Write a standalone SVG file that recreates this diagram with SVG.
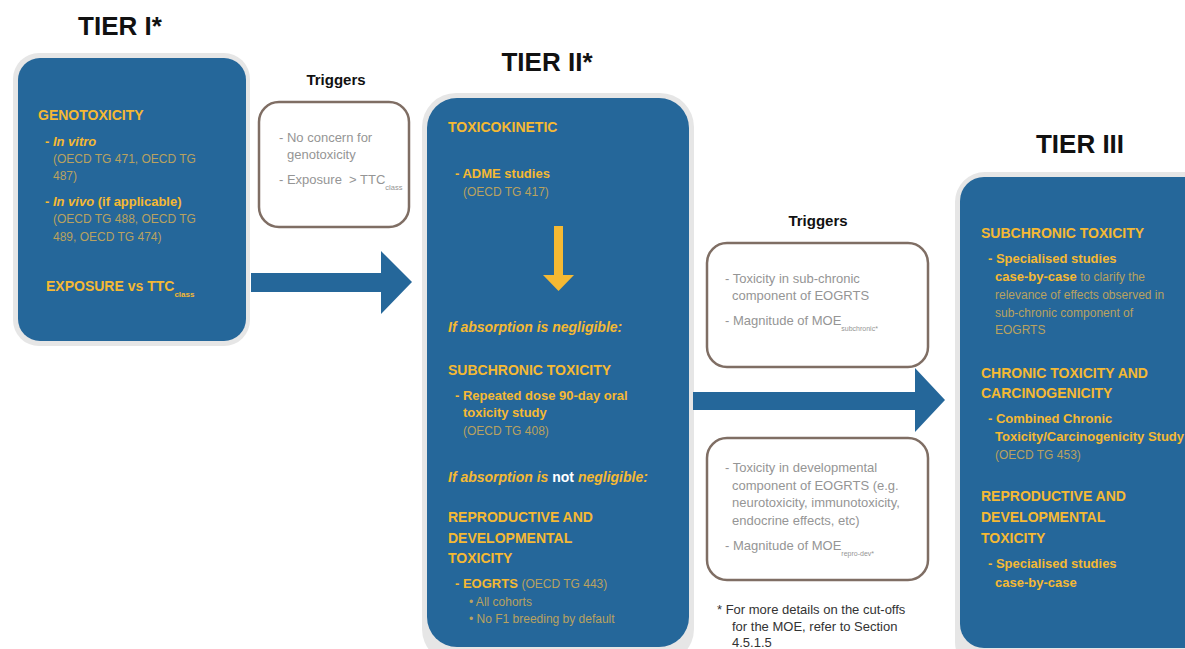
<svg xmlns="http://www.w3.org/2000/svg" width="1185" height="649" viewBox="0 0 1185 649">
<style>
text{font-family:"Liberation Sans",Arial,sans-serif}
.tier{font-size:26px;font-weight:bold;fill:#111}
.trt{font-size:15px;font-weight:bold;fill:#111}
.h{font-size:14px;font-weight:bold;fill:#f5b933}
.b{font-size:13px;font-weight:bold;fill:#f5b933}
.m{font-size:12px;fill:#b9a260}
.t{font-size:13px;fill:#959595}
.fn{font-size:13px;fill:#333}
.halo{fill:#e6e6e6}
.panel{fill:#25679a}
.tbox{fill:#fff;stroke:#7f6e64;stroke-width:2.5}
.blue{fill:#25679a}
</style>
<rect width="1185" height="649" fill="#fff"/>

<g id="tier1">
<text class="tier" x="120" y="35" text-anchor="middle">TIER I*</text>
<rect class="halo" x="13" y="53" width="237" height="293" rx="26"/>
<rect class="panel" x="18" y="58" width="228" height="283" rx="22"/>
<text class="h" x="38" y="120">GENOTOXICITY</text>
<text class="b" x="45" y="146">- <tspan font-style="italic">In vitro</tspan></text>
<text class="m" x="53" y="163">(OECD TG 471, OECD TG</text>
<text class="m" x="53" y="180">487)</text>
<text class="b" x="45" y="206">- <tspan font-style="italic">In vivo</tspan> (if applicable)</text>
<text class="m" x="53" y="223">(OECD TG 488, OECD TG</text>
<text class="m" x="53" y="241">489, OECD TG 474)</text>
<text class="h" x="46" y="291" font-size="14.5">EXPOSURE vs TTC<tspan font-size="8" dy="6">class</tspan></text>
</g>

<g id="triggers1">
<text class="trt" x="336" y="85" text-anchor="middle">Triggers</text>
<rect class="tbox" x="259" y="102" width="150" height="125" rx="20"/>
<text class="t" x="279" y="142">- No concern for</text>
<text class="t" x="287" y="159">genotoxicity</text>
<text class="t" x="279" y="184">- Exposure &#160;&gt; TTC<tspan font-size="7.5" dy="6">class</tspan></text>
</g>

<g id="tier2">
<text class="tier" x="547" y="71" text-anchor="middle">TIER II*</text>
<rect class="halo" x="422" y="93" width="272" height="570" rx="34"/>
<rect class="panel" x="427" y="98" width="262" height="549" rx="30"/>
<text class="h" x="448" y="132">TOXICOKINETIC</text>
<text class="b" x="455" y="178">- ADME studies</text>
<text class="m" x="463" y="196">(OECD TG 417)</text>
<text class="h" x="448" y="332" font-style="italic">If absorption is negligible:</text>
<text class="h" x="448" y="375">SUBCHRONIC TOXICITY</text>
<text class="b" x="455" y="400" font-size="12.5">- Repeated dose 90-day oral</text>
<text class="b" x="463" y="417" font-size="12.5">toxicity study</text>
<text class="m" x="463" y="435">(OECD TG 408)</text>
<text class="h" x="448" y="482" font-style="italic" font-size="14.5">If absorption is <tspan font-style="normal" fill="#fff">not</tspan> negligible:</text>
<text class="h" x="448" y="522">REPRODUCTIVE AND</text>
<text class="h" x="448" y="543">DEVELOPMENTAL</text>
<text class="h" x="448" y="563">TOXICITY</text>
<text class="b" x="455" y="588">- EOGRTS <tspan class="m" font-weight="normal" font-size="12.5">(OECD TG 443)</tspan></text>
<text class="m" x="469" y="606" font-size="12.5">• All cohorts</text>
<text class="m" x="469" y="623" font-size="12.5">• No F1 breeding by default</text>
</g>

<g id="triggers2">
<text class="trt" x="818" y="226" text-anchor="middle">Triggers</text>
<rect class="tbox" x="707" y="243" width="221" height="124" rx="20"/>
<text class="t" x="725" y="283">- Toxicity in sub-chronic</text>
<text class="t" x="732" y="300">component of EOGRTS</text>
<text class="t" x="725" y="325">- Magnitude of MOE<tspan font-size="7" dy="6">subchronic*</tspan></text>
</g>

<g id="triggers3">
<rect class="tbox" x="707" y="438" width="221" height="142" rx="20"/>
<text class="t" x="725" y="472">- Toxicity in developmental</text>
<text class="t" x="732" y="490">component of EOGRTS (e.g.</text>
<text class="t" x="732" y="507">neurotoxicity, immunotoxicity,</text>
<text class="t" x="732" y="525">endocrine effects, etc)</text>
<text class="t" x="725" y="550">- Magnitude of MOE<tspan font-size="7" dy="6">repro-dev*</tspan></text>
</g>

<g id="footnote">
<text class="fn" x="717" y="614">* For more details on the cut-offs</text>
<text class="fn" x="732" y="631">for the MOE, refer to Section</text>
<text class="fn" x="732" y="647">4.5.1.5</text>
</g>

<g id="tier3">
<text class="tier" x="1080" y="153" text-anchor="middle">TIER III</text>
<rect class="halo" x="955" y="172" width="260" height="500" rx="30"/>
<rect class="panel" x="960" y="177" width="250" height="471" rx="24"/>
<text class="h" x="981" y="238">SUBCHRONIC TOXICITY</text>
<text class="b" x="988" y="263">- Specialised studies</text>
<text class="b" x="995" y="281">case-by-case <tspan class="m" font-weight="normal" font-size="12.5">to clarify the</tspan></text>
<text class="m" x="995" y="299" font-size="12.5">relevance of effects observed in</text>
<text class="m" x="995" y="317" font-size="12.5">sub-chronic component of</text>
<text class="m" x="995" y="334" font-size="12.5">EOGRTS</text>
<text class="h" x="981" y="378">CHRONIC TOXICITY AND</text>
<text class="h" x="981" y="398">CARCINOGENICITY</text>
<text class="b" x="988" y="423">- Combined Chronic</text>
<text class="b" x="995" y="441">Toxicity/Carcinogenicity Study</text>
<text class="m" x="995" y="459">(OECD TG 453)</text>
<text class="h" x="981" y="501">REPRODUCTIVE AND</text>
<text class="h" x="981" y="522">DEVELOPMENTAL</text>
<text class="h" x="981" y="543">TOXICITY</text>
<text class="b" x="988" y="568">- Specialised studies</text>
<text class="b" x="995" y="587">case-by-case</text>
</g>

<g id="connectors">
<polygon class="blue" points="251,273 381,273 381,251 412,282 381,314 381,292 251,292"/>
<polygon class="blue" points="693,392 915,392 915,368 945,400 915,432 915,410 693,410"/>
<polygon fill="#f5b933" points="554,226 563,226 563,275 574,275 558.5,291 543,275 554,275"/>
</g>
</svg>
